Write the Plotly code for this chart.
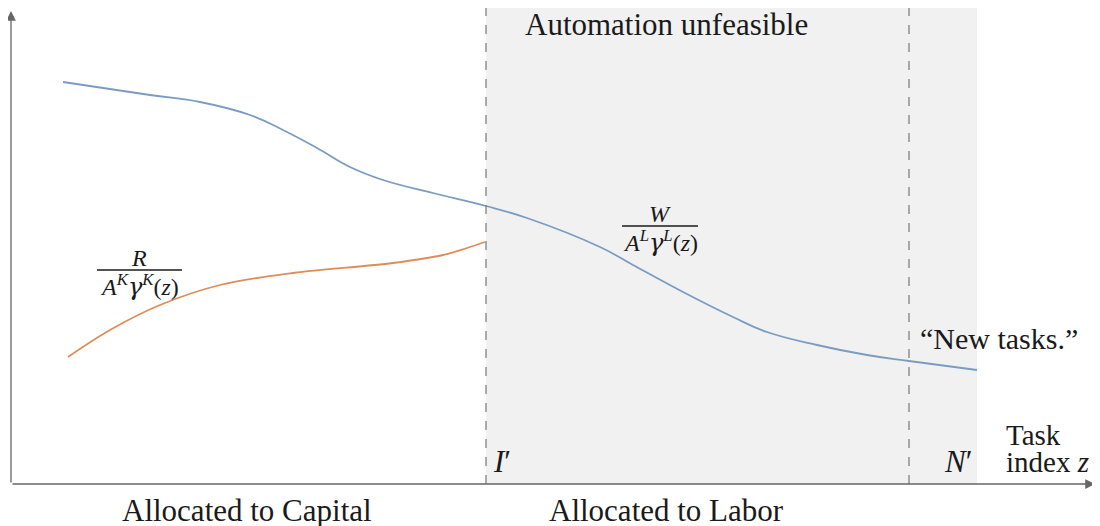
import plotly.graph_objects as go

# Task index positions (x) and unit cost levels (y)
blue_x = [0.52, 1.39, 1.89, 2.39, 2.72, 3.06, 3.39, 3.72, 4.22, 4.75,
          5.16, 5.89, 6.22, 6.72, 7.22, 7.56, 8.06, 8.56, 8.98, 9.66]
blue_y = [4.02, 3.89, 3.82, 3.69, 3.54, 3.36, 3.17, 3.04, 2.91, 2.78,
          2.66, 2.37, 2.19, 1.92, 1.67, 1.52, 1.39, 1.29, 1.23, 1.14]

orange_x = [0.57, 0.99, 1.49, 2.09, 2.82, 3.82, 4.32, 4.56, 4.74]
orange_y = [1.27, 1.54, 1.79, 1.99, 2.11, 2.21, 2.29, 2.36, 2.42]

I_PRIME = 4.75
N_PRIME = 8.98
SHADE_END = 9.66

BLUE = '#7b9cc2'
ORANGE = '#e08c58'
GREY = '#666666'
TXT = '#1a1a1a'
FONT = 'Liberation Serif'
GAMMA = '<i><span style="font-family:DejaVu Serif">γ</span></i>'

fig = go.Figure()

# shaded "automation unfeasible" region
fig.add_shape(type='rect', x0=I_PRIME, x1=SHADE_END, y0=0, y1=4.81,
              fillcolor='#f1f1f1', line_width=0, layer='below')

# dashed markers at I' and N'
for xv in (I_PRIME, N_PRIME):
    fig.add_shape(type='line', x0=xv, x1=xv, y0=0, y1=4.80,
                  line=dict(color='#777777', width=1.2, dash='dash'))

fig.add_trace(go.Scatter(x=blue_x, y=blue_y, mode='lines', line_shape='spline',
                         line=dict(color=BLUE, width=1.8, smoothing=1.2),
                         showlegend=False, hoverinfo='skip'))
fig.add_trace(go.Scatter(x=orange_x, y=orange_y, mode='lines', line_shape='spline',
                         line=dict(color=ORANGE, width=1.8), showlegend=False, hoverinfo='skip'))

# axes drawn as arrows
for tx, ty in [(10.84, 0), (0, 4.73)]:
    fig.add_annotation(x=tx, y=ty, ax=0, ay=0, xref='x', yref='y', axref='x', ayref='y',
                       text='', showarrow=True, arrowhead=2, arrowsize=1.5,
                       arrowwidth=1.3, arrowcolor=GREY)


def label(x, y, text, size=31, **kw):
    fig.add_annotation(x=x, y=y, text=text, showarrow=False,
                       font=dict(family=FONT, size=size, color=TXT), **kw)


label(6.55, 4.60, 'Automation unfeasible', size=31)
label(2.36, -0.26, 'Allocated to Capital')
label(6.55, -0.26, 'Allocated to Labor')
label(4.91, 0.23, "<i>I</i>′")
label(9.47, 0.23, "<i>N</i>′")
label(9.93, 0.49, 'Task', size=29, xanchor='left')
label(9.93, 0.22, 'index <i>z</i>', size=29, xanchor='left')
label(9.07, 1.46, '“New tasks.”', size=30, xanchor='left')

# fractions
label(1.28, 2.26, '<i>R</i>', size=24)
fig.add_shape(type='line', x0=0.86, x1=1.71, y0=2.14, y1=2.14, line=dict(color=TXT, width=1.3))
label(1.28, 1.99, f'<i>A</i><sup><i>K</i></sup>{GAMMA}<sup><i>K</i></sup>(<i>z</i>)', size=24)

label(6.49, 2.70, '<i>W</i>', size=24)
fig.add_shape(type='line', x0=6.11, x1=6.87, y0=2.58, y1=2.58, line=dict(color=TXT, width=1.3))
label(6.49, 2.43, f'<i>A</i><sup><i>L</i></sup>{GAMMA}<sup><i>L</i></sup>(<i>z</i>)', size=24)

# ranges offset by the page's 8px body margin
fig.update_layout(
    width=1100, height=526,
    margin=dict(l=0, r=0, t=0, b=0),
    paper_bgcolor='white', plot_bgcolor='white',
    xaxis=dict(range=[-0.03, 10.97], visible=False),
    yaxis=dict(range=[-0.50, 4.76], visible=False),
)

fig.write_html('out.html')
